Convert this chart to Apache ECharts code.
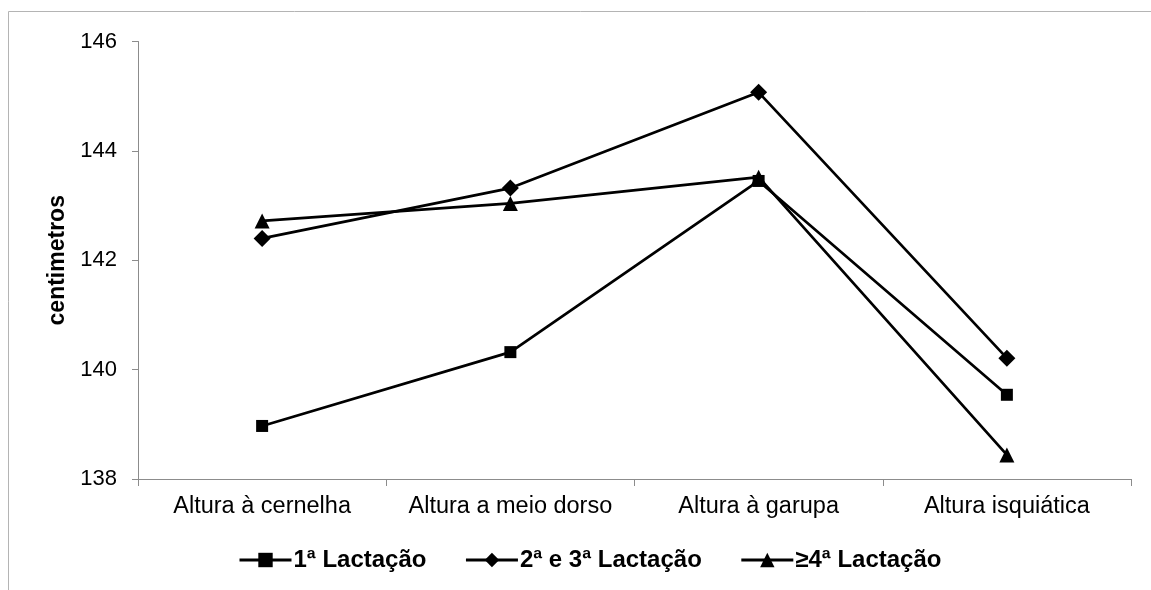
<!DOCTYPE html>
<html>
<head>
<meta charset="utf-8">
<script src="https://cdn.jsdelivr.net/npm/echarts@6/dist/echarts.min.js"></script>
<style>
  html, body { margin: 0; padding: 0; background: #fff; }
  #chart { width: 1151px; height: 590px; }
</style>
</head>
<body>
<div id="chart"></div>
<script>
// Body height measurements by lactation group (cm)
const categories = ['Altura à cernelha', 'Altura a meio dorso', 'Altura à garupa', 'Altura isquiática'];
const seriesNames = ['1ª Lactação', '2ª e 3ª Lactação', '≥4ª Lactação'];
const lact1 = [138.97, 140.32, 143.45, 139.54];
const lact23 = [142.40, 143.32, 145.07, 140.21];
const lact4 = [142.72, 143.04, 143.52, 138.44];
const yTicks = { min: 138, max: 146, interval: 2 };

const FONT = '"Liberation Sans", Arial, sans-serif';

function lineSeries(name, data, symbol, size) {
  return {
    name: name,
    type: 'line',
    data: data,
    symbol: symbol,
    symbolSize: size,
    lineStyle: { color: '#000', width: 2.7 },
    itemStyle: { color: '#000' },
    emphasis: { disabled: true },
    animation: false
  };
}

const chart = echarts.init(document.getElementById('chart'), null, { renderer: 'canvas' });
chart.setOption({
  backgroundColor: '#fff',
  animation: false,
  graphic: [{
    type: 'rect',
    shape: { x: 8.5, y: 11.5, width: 1400, height: 800 },
    style: { fill: 'none', stroke: '#b4b4b4', lineWidth: 1 },
    silent: true,
    z: -1
  }],
  grid: { left: 138, right: 20, top: 41.5, bottom: 111, containLabel: false },
  legend: {
    left: 233,
    top: 543,
    itemWidth: 52,
    itemHeight: 18,
    itemGap: 38,
    lineStyle: { width: 3, color: '#000' },
    textStyle: { fontFamily: FONT, fontSize: 24, fontWeight: 'bold', color: '#000', padding: [0, 0, 0, -3] },
    data: seriesNames
  },
  xAxis: {
    type: 'category',
    data: categories,
    boundaryGap: true,
    axisLine: { lineStyle: { color: '#8c8c8c', width: 1 } },
    axisTick: { show: true, length: 7, interval: 0, lineStyle: { color: '#8c8c8c' }, alignWithLabel: false },
    axisLabel: { fontFamily: FONT, fontSize: 23.5, color: '#000', margin: 16, interval: 0 },
    splitLine: { show: false }
  },
  yAxis: {
    type: 'value',
    min: yTicks.min,
    max: yTicks.max,
    interval: yTicks.interval,
    name: 'centimetros',
    nameLocation: 'middle',
    nameRotate: 90,
    nameGap: 36,
    nameTextStyle: { fontFamily: FONT, fontSize: 23, fontWeight: 'bold', color: '#000' },
    axisLine: { show: true, lineStyle: { color: '#8c8c8c', width: 1 } },
    axisTick: { show: true, length: 6, lineStyle: { color: '#8c8c8c' } },
    axisLabel: { fontFamily: FONT, fontSize: 22, color: '#000', margin: 21 },
    splitLine: { show: false }
  },
  series: [
    lineSeries(seriesNames[0], lact1, 'rect', 12),
    lineSeries(seriesNames[1], lact23, 'diamond', 17),
    lineSeries(seriesNames[2], lact4, 'triangle', 15)
  ]
});
</script>
</body>
</html>
